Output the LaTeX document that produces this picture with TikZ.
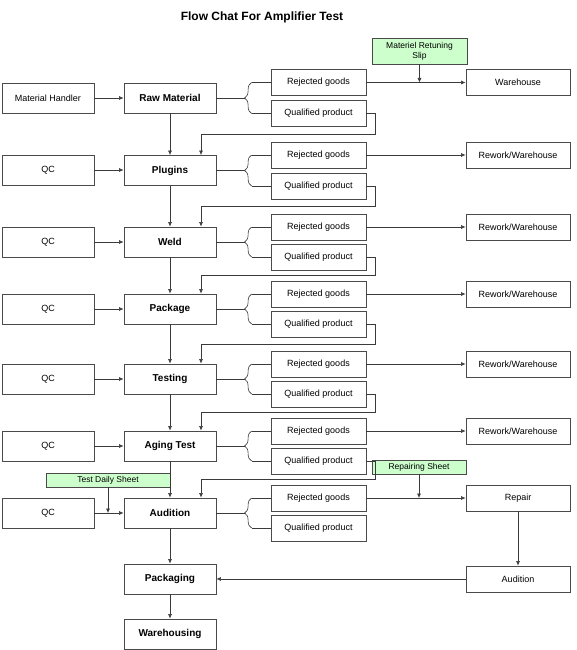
\documentclass[tikz,border=0pt]{standalone}
\usepackage{fontspec}
\setmainfont{Liberation Sans}
\usetikzlibrary{arrows.meta,positioning,calc,decorations.pathreplacing}
\definecolor{ChartLine}{HTML}{3A3A3A}
\definecolor{ChartBox}{HTML}{4A4A4A}
\definecolor{SheetGreen}{HTML}{CCFFCC}
\tikzset{
  link/.style={-{Latex[length=4.5pt,width=4pt]}, line width=0.6pt, draw=ChartLine},
  wire/.style={line width=0.6pt, draw=ChartLine},
  box/.style={draw=ChartBox, fill=white, line width=0.8pt, align=center, inner sep=1pt,
              font=\fontsize{9}{10.5}\selectfont},
  side/.style={box, minimum width=92pt, minimum height=30pt},
  process/.style={box, minimum width=92pt, minimum height=30pt, font=\fontsize{10}{12}\selectfont\bfseries},
  result/.style={box, minimum width=95pt, minimum height=26pt},
  target/.style={box, minimum width=104pt, minimum height=26pt},
  sheet/.style={box, fill=SheetGreen, minimum height=14pt, font=\fontsize{8.5}{10}\selectfont},
  bracket/.style={wire, decorate, decoration={brace, amplitude=7pt}},
}

\begin{document}
\begin{tikzpicture}[x=1pt,y=-1pt]
    \useasboundingbox (0,0) rectangle (576,650);
    \node[font=\fontsize{12}{14}\selectfont\bfseries] (title) at (262,17) {Flow Chat For Amplifier Test};
    % left column
    \node[side] (hand) at (48,98) {Material Handler};
    \node[side] (qc2) at (48,170) {QC};
    \node[side] (qc3) at (48,242) {QC};
    \node[side] (qc4) at (48,309) {QC};
    \node[side] (qc5) at (48,379) {QC};
    \node[side] (qc6) at (48,446) {QC};
    \node[side] (qc7) at (48,513) {QC};
    % process column
    \node[process] (raw) at (170,98) {Raw Material};
    \node[process] (plugins) at (170,170.5) {Plugins};
    \node[process] (weld) at (170,242) {Weld};
    \node[process] (package) at (170,309) {Package};
    \node[process] (testing) at (170,379) {Testing};
    \node[process] (aging) at (170,446) {Aging Test};
    \node[process] (audition) at (170,513) {Audition};
    \node[process] (packaging) at (170,579) {Packaging};
    \node[process] (warehousing) at (170,634) {Warehousing};
    % results
    \node[result] (rej1) at (318.5,82.5) {Rejected goods};
    \node[result] (qual1) at (318.5,113.5) {Qualified product};
    \node[result] (rej2) at (318.5,155) {Rejected goods};
    \node[result] (qual2) at (318.5,186) {Qualified product};
    \node[result] (rej3) at (318.5,227) {Rejected goods};
    \node[result] (qual3) at (318.5,257) {Qualified product};
    \node[result] (rej4) at (318.5,294) {Rejected goods};
    \node[result] (qual4) at (318.5,324) {Qualified product};
    \node[result] (rej5) at (318.5,364) {Rejected goods};
    \node[result] (qual5) at (318.5,394) {Qualified product};
    \node[result] (rej6) at (318.5,431) {Rejected goods};
    \node[result] (qual6) at (318.5,461) {Qualified product};
    \node[result] (rej7) at (318.5,498) {Rejected goods};
    \node[result] (qual7) at (318.5,528) {Qualified product};
    % right column
    \node[target] (store) at (518,82.5) {Warehouse};
    \node[target] (rework2) at (518,155) {Rework/Warehouse};
    \node[target] (rework3) at (518,227) {Rework/Warehouse};
    \node[target] (rework4) at (518,294) {Rework/Warehouse};
    \node[target] (rework5) at (518,364) {Rework/Warehouse};
    \node[target] (rework6) at (518,431) {Rework/Warehouse};
    \node[target] (repair) at (518,498) {Repair};
    \node[target] (recheck) at (518,579) {Audition};
    % sheets
    \node[sheet, minimum width=95pt, minimum height=26pt] (slip) at (419.5,51) {Materiel Retuning\\Slip};
    \node[sheet, minimum width=94pt] (repsheet) at (419,467) {Repairing Sheet};
    \node[sheet, minimum width=124pt] (daily) at (108,480) {Test Daily Sheet};

    \draw[link] (hand) -- (raw);
    \foreach \q/\p in {qc2/plugins,qc3/weld,qc4/package,qc5/testing,qc6/aging,qc7/audition}
      \draw[link] (\q) -- (\q -| \p.west);
    \draw[link] (raw) -- (plugins);
    \draw[link] (plugins) -- (weld);
    \draw[link] (weld) -- (package);
    \draw[link] (package) -- (testing);
    \draw[link] (testing) -- (aging);
    \draw[link] (aging) -- (audition);
    \draw[link] (audition) -- (packaging);
    \draw[link] (packaging) -- (warehousing);
    % splits into rejected / qualified
    \foreach \p/\r in {raw/1,plugins/2,weld/3,package/4,testing/5,aging/6,audition/7} {
      \coordinate (tip\r) at ($(rej\r.west)!.5!(qual\r.west)+(-26,0)$);
      \draw[bracket] ([xshift=-19pt]qual\r.west) -- ([xshift=-19pt]rej\r.west);
      \draw[wire] ([xshift=-19pt]rej\r.west) -- (rej\r.west);
      \draw[wire] ([xshift=-19pt]qual\r.west) -- (qual\r.west);
      \draw[wire] (\p.east |- tip\r) -- (tip\r);
    }
    % qualified product goes on
    \foreach \r/\p/\n in {1/raw/plugins,2/plugins/weld,3/weld/package,4/package/testing,5/testing/aging,6/aging/audition}
      \draw[link] (qual\r.east) -- ++(9,0) |- ($(\p.south)!.5!(\n.north)+(31,0)$) -- ([xshift=31pt]\n.north);
    % rejected goods
    \draw[link] (rej1) -- (store);
    \foreach \r in {2,...,6}
      \draw[link] (rej\r) -- (rework\r);
    \draw[link] (rej7) -- (repair);
    \draw[link] (repair) -- (recheck);
    \draw[link] (recheck) -- (packaging);
    % sheets
    \draw[link] (slip) -- (slip |- rej1);
    \draw[link] (repsheet) -- (repsheet |- rej7);
    \draw[link] (daily) -- (daily |- qc7);
  \end{tikzpicture}
\end{document}
